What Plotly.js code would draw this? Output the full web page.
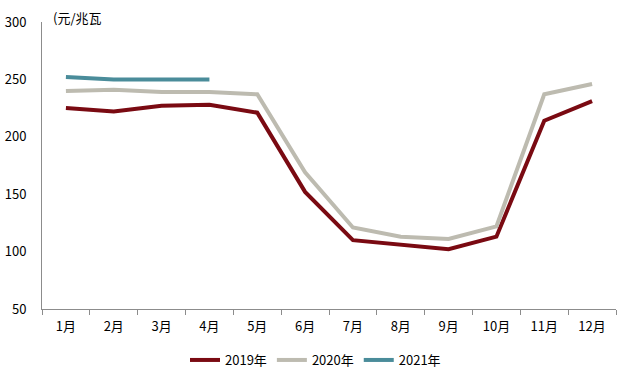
<!DOCTYPE html>
<html>
<head>
<meta charset="utf-8">
<script src="https://cdn.plot.ly/plotly-3.0.1.min.js"></script>
<style>html,body{margin:0;padding:0;background:#fff;}#chart{width:631px;height:380px;}</style>
</head>
<body>
<div id="chart"></div>
<script>
const months = ["1月","2月","3月","4月","5月","6月","7月","8月","9月","10月","11月","12月"];
const s2019 = [225, 222, 227, 228, 221, 152, 110, 106, 102, 113, 214, 231];
const s2020 = [240, 241, 239, 239, 237, 169, 121, 113, 111, 122, 237, 246];
const s2021 = [252, 250, 250, 250];
const seriesNames = ["2019年", "2020年", "2021年"];
const unitLabel = "(元/兆瓦";

const font = "Noto Sans CJK SC, Liberation Sans, sans-serif";
const traces = [
  {x: months, y: s2019, name: seriesNames[0], type: "scatter", mode: "lines", line: {color: "#7A0A12", width: 4}},
  {x: months, y: s2020, name: seriesNames[1], type: "scatter", mode: "lines", line: {color: "#BDBBB0", width: 4}},
  {x: months.slice(0, s2021.length), y: s2021, name: seriesNames[2], type: "scatter", mode: "lines", line: {color: "#4A8C9A", width: 4}}
];
const layout = {
  width: 631, height: 380,
  margin: {l: 42, r: 15, t: 22, b: 71},
  paper_bgcolor: "#fff", plot_bgcolor: "#fff",
  font: {family: font, size: 13, color: "#000"},
  showlegend: true,
  legend: {orientation: "h", x: 0.5, xanchor: "center", xref: "container", y: 20/380, yanchor: "middle", yref: "container",
           font: {size: 13, color: "#000"}, itemwidth: 30, tracegroupgap: 0},
  xaxis: {
    type: "category", range: [-0.5, 11.5], showgrid: false, zeroline: false,
    showline: true, linecolor: "#8c8c8c", linewidth: 1,
    ticks: "outside", tickson: "boundaries", ticklen: 5, tickcolor: "#8c8c8c",
    ticklabelstandoff: 5,
    tickfont: {size: 13, color: "#000"}
  },
  yaxis: {
    range: [50, 300], dtick: 50, tick0: 50, showgrid: false, zeroline: false,
    showline: true, linecolor: "#8c8c8c", linewidth: 1,
    ticks: "", ticklabelstandoff: 12,
    tickfont: {size: 13, color: "#000"}
  },
  annotations: [{
    text: unitLabel, xref: "paper", yref: "paper", x: 0.015, y: 1.017,
    xanchor: "left", yanchor: "middle", showarrow: false, font: {size: 13, color: "#000"}
  }]
};
Plotly.newPlot("chart", traces, layout, {displayModeBar: false, staticPlot: true});
</script>
</body>
</html>
